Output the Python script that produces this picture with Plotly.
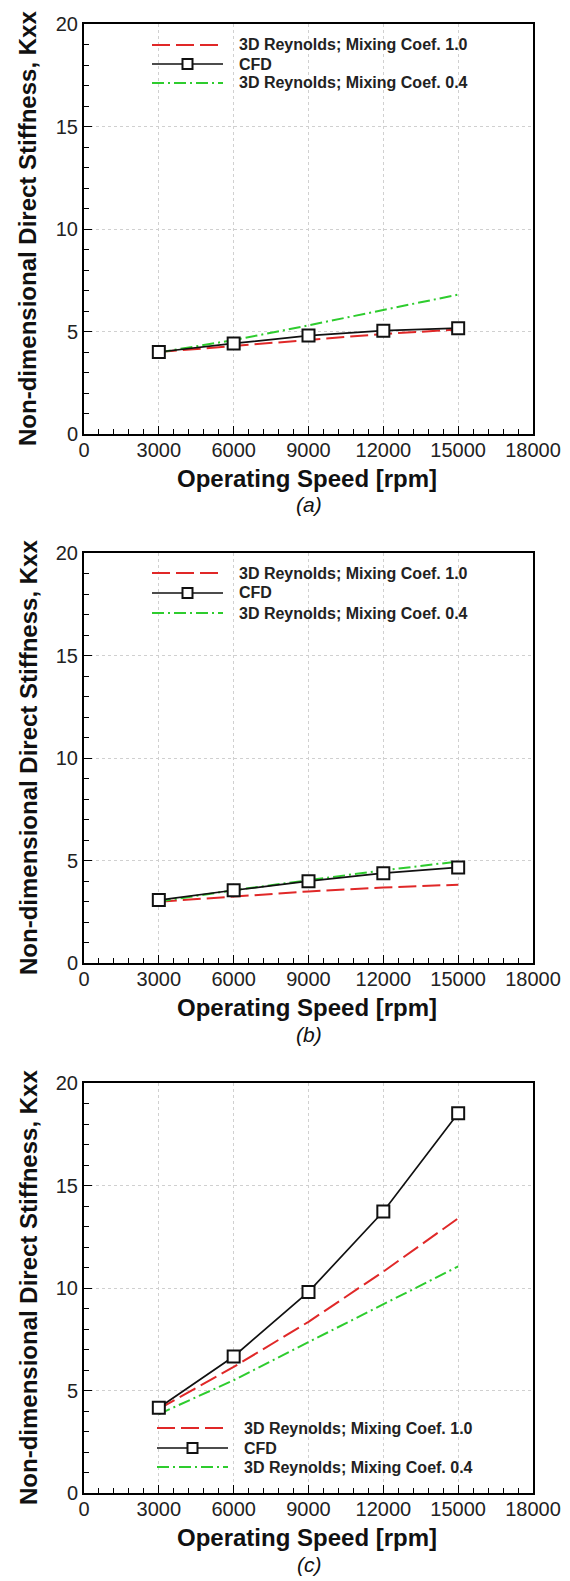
import plotly.graph_objects as go

W, H = 570, 1581

speed = [3000, 6000, 9000, 12000, 15000]

a_re10 = [4.0, 4.29, 4.58, 4.88, 5.1]
a_cfd = [4.0, 4.42, 4.8, 5.04, 5.16]
a_re04 = [3.98, 4.58, 5.3, 6.05, 6.8]

b_re10 = [2.99, 3.25, 3.49, 3.68, 3.82]
b_cfd = [3.07, 3.55, 3.99, 4.38, 4.66]
b_re04 = [3.0, 3.55, 4.04, 4.52, 4.95]

c_re10 = [4.1, 6.15, 8.35, 10.8, 13.4]
c_cfd = [4.16, 6.66, 9.81, 13.73, 18.52]
c_re04 = [3.85, 5.5, 7.36, 9.2, 11.05]

names = ["3D Reynolds; Mixing Coef. 1.0", "CFD", "3D Reynolds; Mixing Coef. 0.4"]
captions = ["(a)", "(b)", "(c)"]
x_ticks = [0, 3000, 6000, 9000, 12000, 15000, 18000]
y_ticks = [0, 5, 10, 15, 20]

RED = "#e02828"
GREEN = "#2ecc2e"
BLACK = "#111111"
FONT = "Liberation Sans, Arial, sans-serif"
RED_DASH = "18px,6px"
GREEN_DASH = "12px,4px,2px,4px"

panels = [
    (a_re10, a_cfd, a_re04),
    (b_re10, b_cfd, b_re04),
    (c_re10, c_cfd, c_re04),
]

# pixel layout
XL, XR = 84, 533
tops = [24, 553, 1083]
PH = 410
legend_rows = [[45, 64, 83], [573, 593, 613], [1428, 1448, 1467]]
legend_x0 = [152, 152, 157]


def px(x):
    return x / W


def py(y):
    return 1 - y / H


fig = go.Figure()

shapes = []
annotations = []

for i, (re10, cfd, re04) in enumerate(panels):
    sfx = "" if i == 0 else str(i + 1)
    xa, ya = "x" + sfx, "y" + sfx
    fig.add_trace(go.Scatter(x=speed, y=re10, mode="lines", xaxis=xa, yaxis=ya,
                             line=dict(color=RED, width=2, dash=RED_DASH),
                             showlegend=False, name=names[0]))
    fig.add_trace(go.Scatter(x=speed, y=re04, mode="lines", xaxis=xa, yaxis=ya,
                             line=dict(color=GREEN, width=2, dash=GREEN_DASH),
                             showlegend=False, name=names[2]))
    fig.add_trace(go.Scatter(x=speed, y=cfd, mode="lines+markers", xaxis=xa, yaxis=ya,
                             line=dict(color=BLACK, width=1.7),
                             marker=dict(symbol="square", size=12, color="white",
                                         line=dict(color=BLACK, width=2)),
                             showlegend=False, name=names[1]))

    top = tops[i]
    bot = top + PH
    axis_common = dict(
        showline=True, linecolor="black", linewidth=2, mirror=True,
        ticks="inside", ticklen=8, tickwidth=1.2, tickcolor="black",
        showgrid=True, gridcolor="#d0d0d0", griddash="dot", gridwidth=1,
        zeroline=False, automargin=False,
        tickfont=dict(family=FONT, size=20, color="#222"),
    )
    fig.update_layout(**{
        "xaxis" + sfx: dict(
            domain=[px(XL), px(XR)], anchor=ya, range=[0, 18000],
            tickvals=x_ticks, ticktext=[str(v) for v in x_ticks],
            minor=dict(dtick=600, ticklen=5, tickwidth=1, ticks="inside",
                       tickcolor="black", showgrid=False),
            ticklabelstandoff=-3,
            **axis_common),
        "yaxis" + sfx: dict(
            domain=[py(bot), py(top)], anchor=xa, range=[0, 20],
            tickvals=y_ticks, ticktext=[str(v) for v in y_ticks],
            minor=dict(dtick=1, ticklen=5, tickwidth=1, ticks="inside",
                       tickcolor="black", showgrid=False),
            ticklabelstandoff=0,
            **axis_common),
    })

    # axis titles and caption
    annotations.append(dict(text="<b>Operating Speed [rpm]</b>", x=px(307), y=py(bot + 44),
                            xref="paper", yref="paper", showarrow=False,
                            xanchor="center", yanchor="middle",
                            font=dict(family=FONT, size=24, color="#111")))
    annotations.append(dict(text="<b>Non-dimensional Direct Stiffness, Kxx</b>",
                            x=px(28), y=py(top + 205), textangle=-90,
                            xref="paper", yref="paper", showarrow=False,
                            xanchor="center", yanchor="middle",
                            font=dict(family=FONT, size=24, color="#111")))
    annotations.append(dict(text="<i>" + captions[i] + "</i>", x=px(309), y=py(bot + 71),
                            xref="paper", yref="paper", showarrow=False,
                            xanchor="center", yanchor="middle",
                            font=dict(family=FONT, size=21, color="#111")))

    # legend (drawn as decorations)
    lx0 = legend_x0[i]
    lx1 = lx0 + 71
    rows = legend_rows[i]
    styles = [dict(color=RED, width=2, dash=RED_DASH),
              dict(color=BLACK, width=1.7),
              dict(color=GREEN, width=2, dash=GREEN_DASH)]
    for r, (yy, st, nm) in enumerate(zip(rows, styles, names)):
        shapes.append(dict(type="line", xref="paper", yref="paper",
                           x0=px(lx0), x1=px(lx1), y0=py(yy), y1=py(yy), line=st))
        if r == 1:
            cx = (lx0 + lx1) / 2
            shapes.append(dict(type="rect", xref="paper", yref="paper",
                               x0=px(cx - 5), x1=px(cx + 5), y0=py(yy - 5), y1=py(yy + 5),
                               fillcolor="white", line=dict(color=BLACK, width=2)))
        annotations.append(dict(text="<b>" + nm + "</b>", x=px(lx1 + 14), y=py(yy),
                                xref="paper", yref="paper", showarrow=False,
                                xanchor="left", yanchor="middle",
                                font=dict(family=FONT, size=16, color="#222")))

fig.update_layout(
    width=W, height=H,
    margin=dict(l=0, r=0, t=0, b=0, pad=0, autoexpand=False),
    paper_bgcolor="white", plot_bgcolor="white",
    shapes=shapes, annotations=annotations,
    showlegend=False,
)

fig.write_html("out.html")
